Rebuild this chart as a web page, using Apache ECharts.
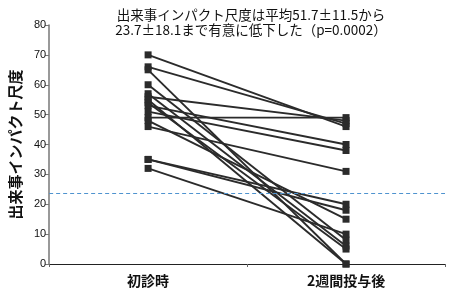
<!DOCTYPE html>
<html>
<head>
<meta charset="utf-8">
<script src="https://cdn.jsdelivr.net/npm/echarts@6/dist/echarts.min.js"></script>
<style>html,body{margin:0;padding:0;background:#fff}#c{width:450px;height:293px}</style>
</head>
<body>
<div id="c"></div>
<script>
var categories = ['初診時', '2週間投与後'];
var before = [70, 66, 65, 60, 57, 56, 55, 54, 53, 51, 49, 48, 46, 35, 35, 32];
var after  = [46, 47, 0, 8, 6, 48, 0, 5, 40, 38, 49, 15, 31, 20, 18, 10];
var meanAfter = 23.7;
var yTicks = [0, 10, 20, 30, 40, 50, 60, 70, 80];
var titleText = '出来事インパクト尺度は平均51.7±11.5から\n23.7±18.1まで有意に低下した（p=0.0002）';
var yName = '出来事インパクト尺度';

var chart = echarts.init(document.getElementById('c'), null, {renderer: 'canvas'});
var series = before.map(function (b, i) {
  return {
    type: 'line',
    data: [b, after[i]],
    symbol: 'rect',
    symbolSize: 7,
    showSymbol: true,
    animation: false,
    lineStyle: {color: '#2b2b2b', width: 1.9},
    itemStyle: {color: '#2b2b2b'},
    emphasis: {disabled: true},
    z: 3
  };
});
series.push({
  type: 'line',
  data: [],
  color: '#4f93cf',
  itemStyle: {color: '#4f93cf'},
  lineStyle: {color: '#4f93cf'},
  markLine: {
    silent: true,
    symbol: 'none',
    label: {show: false},
    lineStyle: {color: '#4f93cf', type: [4, 3], width: 1.2, opacity: 1},
    data: [{yAxis: meanAfter}]
  },
  z: 1
});

chart.setOption({
  animation: false,
  title: {
    text: titleText,
    left: 246,
    textAlign: 'center',
    top: 2,
    textStyle: {fontSize: 13.5, fontWeight: 'normal', color: '#111', lineHeight: 15, fontFamily: 'Noto Sans CJK JP'}
  },
  grid: {left: 45, right: 5, top: 25, bottom: 29, containLabel: false},
  xAxis: {
    type: 'category',
    data: categories,
    boundaryGap: true,
    axisLine: {lineStyle: {color: '#222', width: 1}},
    axisTick: {show: true, length: 3, lineStyle: {color: '#666'}},
    axisLabel: {fontSize: 14, fontWeight: 'bold', color: '#111', margin: 10, fontFamily: 'Noto Sans CJK JP'}
  },
  yAxis: {
    type: 'value',
    min: yTicks[0],
    max: yTicks[yTicks.length - 1],
    interval: 10,
    name: yName,
    nameLocation: 'middle',
    nameRotate: 90,
    nameGap: 26,
    nameTextStyle: {fontSize: 15, fontWeight: 'bold', color: '#111', fontFamily: 'Noto Sans CJK JP'},
    splitLine: {show: false},
    axisLine: {show: true, lineStyle: {color: '#777', width: 1.5}},
    axisTick: {show: true, length: 4, lineStyle: {color: '#777'}},
    axisLabel: {fontSize: 11, color: '#111', margin: 3, fontFamily: 'Liberation Sans Narrow, Liberation Sans, sans-serif'}
  },
  series: series
});
</script>
</body>
</html>
